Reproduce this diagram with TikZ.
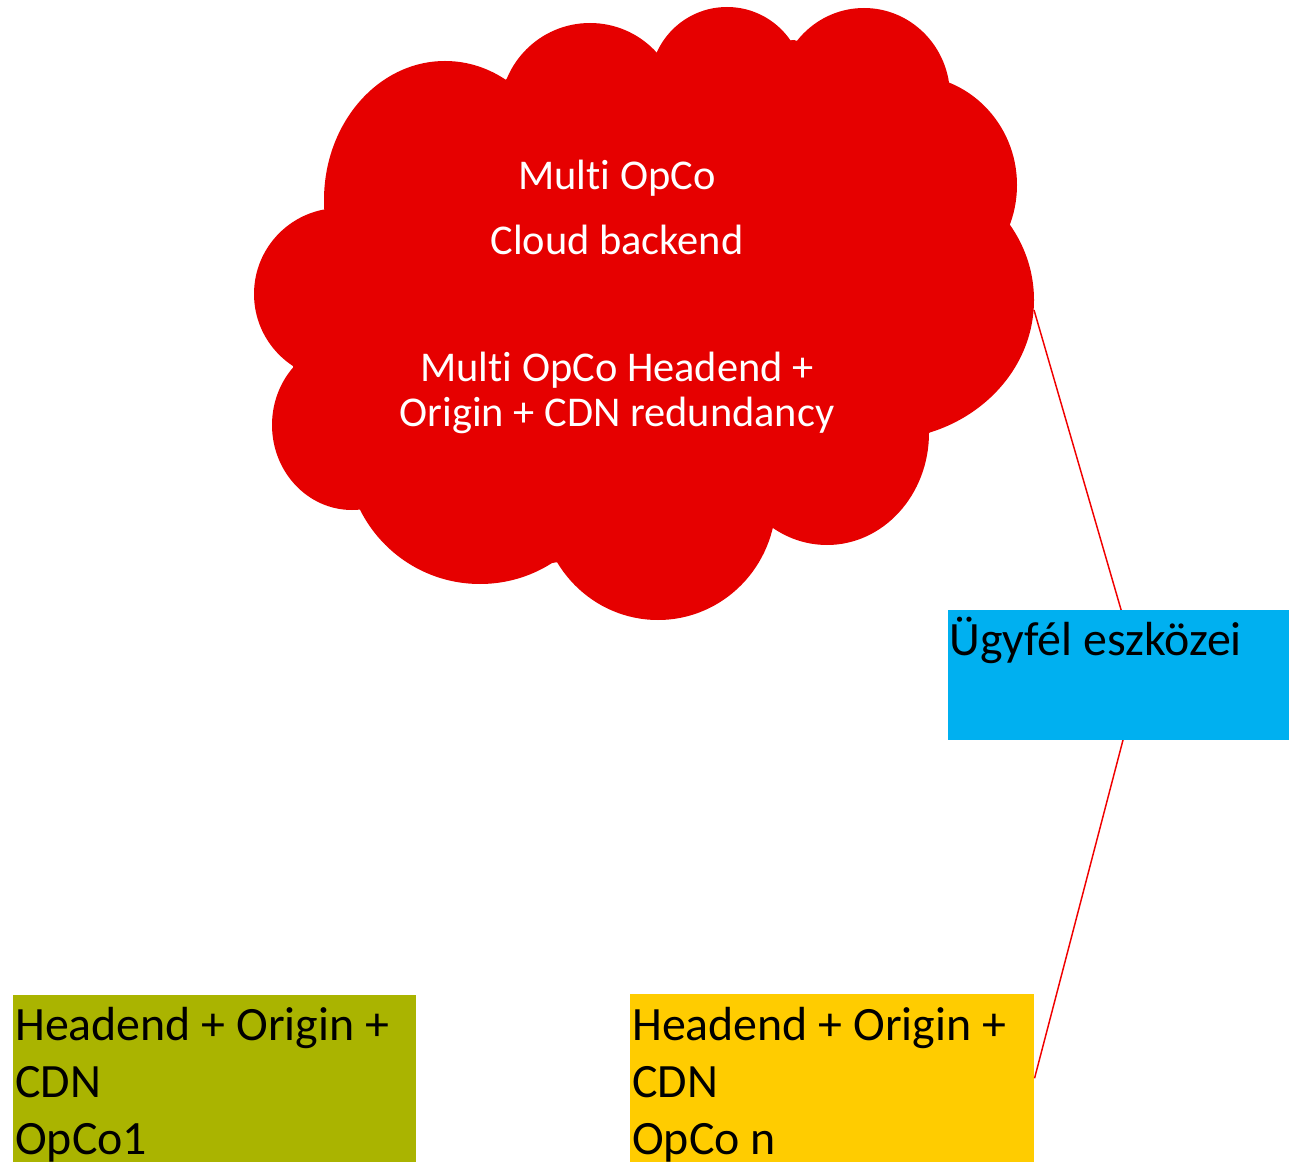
\documentclass[tikz,border=0pt]{standalone}
\usepackage{fontspec}
\setmainfont{Carlito}[Ligatures={NoCommon}]
\definecolor{cloudred}{HTML}{E60000}
\definecolor{linered}{HTML}{F00000}
\definecolor{boxblue}{HTML}{00B0F0}
\definecolor{boxgreen}{HTML}{AAB400}
\definecolor{boxyellow}{HTML}{FFCC00}
\tikzset{
  cloudfill/.style={fill=cloudred},
  cloudtext/.style={anchor=base, inner sep=0pt, text=white, font=\fontsize{31.8}{38}\selectfont},
  boxtext/.style={anchor=base west, inner sep=0pt, text=black, font=\fontsize{35.9}{43}\selectfont},
  box/.style={anchor=north west, inner sep=0pt, draw=none},
  link/.style={draw=linered, line width=1.1pt}
}
\begin{document}
\begin{tikzpicture}[x=0.75pt,y=-0.75pt]
\useasboundingbox (0,0) rectangle (1289,1162);
% cloud
\fill[cloudfill] (326,211) -- (508,78) -- (659,53) -- (794,40) -- (947,85) -- (1009,224)
  -- (1033,310) -- (929,433) -- (771,529) -- (552,563) -- (360,508) -- (293,367) -- cycle;
\fill[cloudfill] (445,200) ellipse [x radius=121, y radius=139];
\fill[cloudfill] (590,113) ellipse [x radius=90, y radius=90];
\fill[cloudfill] (727,84) ellipse [x radius=77, y radius=77];
\fill[cloudfill] (864,96) ellipse [x radius=86, y radius=88];
\fill[cloudfill] (910,185) ellipse [x radius=107, y radius=110];
\fill[cloudfill] (880,300) ellipse [x radius=154, y radius=140];
\fill[cloudfill] (827,433) ellipse [x radius=102, y radius=112];
\fill[cloudfill] (658,500) ellipse [x radius=118, y radius=120];
\fill[cloudfill] (480,450) ellipse [x radius=134, y radius=134];
\fill[cloudfill] (352,425) ellipse [x radius=80, y radius=85];
\fill[cloudfill] (340,294) ellipse [x radius=86, y radius=86];
\coordinate (cloudE) at (1034,310);
\node[cloudtext] (c1) at (617,190) {Multi OpCo};
\node[cloudtext] (c2) at (617,255) {Cloud backend};
\node[cloudtext] (c3) at (617,382) {Multi OpCo Headend +};
\node[cloudtext] (c4) at (617,427) {Origin + CDN redundancy};
% bottom boxes
\node[box, fill=boxgreen, minimum width=403*0.75pt, minimum height=167*0.75pt] (green) at (13,995) {};
\node[boxtext] (g1) at (15,1040) {Headend + Origin +};
\node[boxtext] (g2) at (15,1097) {CDN};
\node[boxtext] (g3) at (15,1154) {OpCo1};
\node[box, fill=boxyellow, minimum width=404*0.75pt, minimum height=168*0.75pt] (yellow) at (630,994) {};
\node[boxtext] (y1) at (632,1040) {Headend + Origin +};
\node[boxtext] (y2) at (632,1097) {CDN};
\node[boxtext] (y3) at (632,1154) {OpCo n};
% connector behind the blue box
\coordinate (joint) at (1140,675);
\draw[link] (cloudE) -- (joint) -- (yellow.east);
% blue box
\node[box, fill=boxblue, minimum width=341*0.75pt, minimum height=130*0.75pt] (blue) at (948,610) {};
\node[boxtext] (b1) at (949,655) {Ügyfél eszközei};
\end{tikzpicture}
\end{document}
